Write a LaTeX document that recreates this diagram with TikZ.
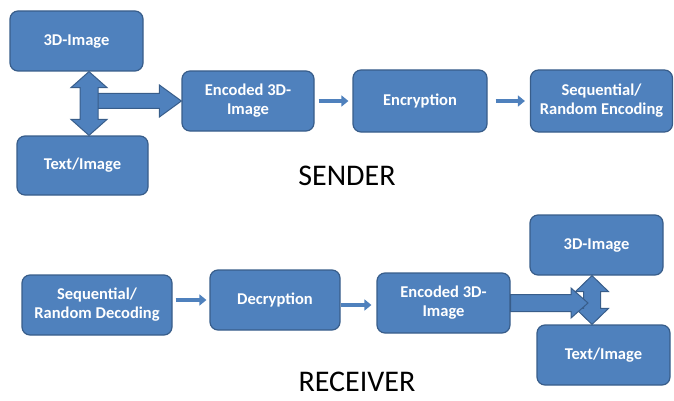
\documentclass[tikz,border=0pt]{standalone}
\usepackage{fontspec}
\setmainfont{Carlito}
\usetikzlibrary{calc,arrows.meta}
\definecolor{boxblue}{HTML}{4F81BD}
\definecolor{boxedge}{HTML}{385D8A}

\begin{document}
\begin{tikzpicture}[x=1pt,y=-1pt,
	box/.style={draw=boxedge,fill=boxblue,line width=1.2pt,rounded corners=8pt,text=white,align=center,inner sep=0pt,font=\fontsize{16.5}{19}\selectfont\bfseries},
	thin arrow/.style={draw=boxblue,line width=3.5pt,-{Triangle[width=11pt,length=7pt]}},
	hblock/.style n args={3}{draw=boxedge,fill=boxblue,line width=1pt,
		to path={let \p1=(\tikztostart),\p2=(\tikztotarget) in
		(\x1,\y1+#1) -- (\x2-#3,\y1+#1) -- (\x2-#3,\y1+#2) -- (\x2,\y1) -- (\x2-#3,\y1-#2) -- (\x2-#3,\y1-#1) -- (\x1,\y1-#1) -- cycle}},
	vblock/.style n args={3}{draw=boxedge,fill=boxblue,line width=1pt,
		to path={let \p1=(\tikztostart),\p2=(\tikztotarget) in
		(\x1,\y1) -- (\x1+#2,\y1-#3) -- (\x1+#1,\y1-#3) -- (\x1+#1,\y2+#3) -- (\x1+#2,\y2+#3) -- (\x1,\y2)
		-- (\x1-#2,\y2+#3) -- (\x1-#1,\y2+#3) -- (\x1-#1,\y1-#3) -- (\x1-#2,\y1-#3) -- cycle}},
	title/.style={inner sep=0pt,font=\fontsize{30}{30}\selectfont}]
	\useasboundingbox (0,0) rectangle (674,401);
	
	%sender boxes
	\node[box,minimum width=133pt,minimum height=60pt] (simg) at (76.5,41) {3D-Image};
	\node[box,minimum width=131pt,minimum height=59pt] (stxt) at (82.5,165.5) {Text/Image};
	\node[box,minimum width=132pt,minimum height=60pt] (senc) at (248,101) {Encoded 3D-\\Image};
	\node[box,minimum width=134pt,minimum height=62pt] (scry) at (420,101) {Encryption};
	\node[box,minimum width=142pt,minimum height=62pt] (sseq) at (601.5,101) {Sequential/\\Random Encoding};
	
	%receiver boxes
	\node[box,minimum width=150pt,minimum height=60pt] (rseq) at (97,305) {Sequential/\\Random Decoding};
	\node[box,minimum width=130pt,minimum height=60pt] (rdec) at (275,300) {Decryption};
	\node[box,minimum width=133pt,minimum height=60pt] (renc) at (443.5,303) {Encoded 3D-\\Image};
	\node[box,minimum width=133pt,minimum height=60pt] (rimg) at (596.5,245) {3D-Image};
	\node[box,minimum width=133pt,minimum height=60pt] (rtxt) at (603.5,355) {Text/Image};
	
	%junctions
	\coordinate (sj) at (89,101);
	\coordinate (rj) at (592,303);
	
	%block arrows
	\draw[hblock={7.5pt}{16pt}{22pt}] (sj) to (senc.west);
	\draw[vblock={9pt}{18pt}{16pt}] (simg.south -| sj) to (stxt.north -| sj);
	\draw[vblock={8.5pt}{16.5pt}{16pt}] (rimg.south -| rj) to (rtxt.north -| rj);
	\draw[hblock={8.5pt}{15pt}{17pt}] (renc.east) to ($(rj)+(-4,0)$);
	
	%thin arrows
	\draw[thin arrow,shorten <=4pt,shorten >=4pt] (senc.east) -- (scry.west);
	\draw[thin arrow,shorten <=8pt,shorten >=5pt] (scry.east) -- (sseq.west);
	\draw[thin arrow,shorten <=3pt,shorten >=3pt] (rseq.east |- rdec.west) -- (rdec.west);
	\draw[thin arrow,shorten >=5pt] (rdec.east |- 0,305) -- (renc.west |- 0,305);
	
	%labels
	\node[title] (sender) at (347,176) {SENDER};
	\node[title] (receiver) at (357,382) {RECEIVER};
\end{tikzpicture}
\end{document}
